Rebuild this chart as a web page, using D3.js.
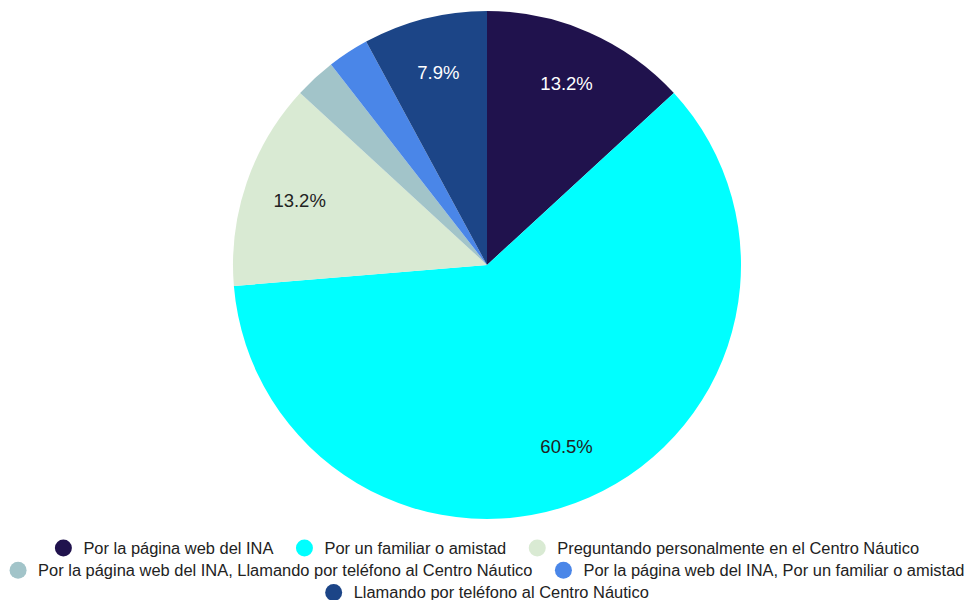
<!DOCTYPE html>
<html><head><meta charset="utf-8">
<script src="https://cdn.jsdelivr.net/npm/d3@7"></script>
<style>body{margin:0;background:#fff}svg{display:block;font-family:"Liberation Sans",Arial,sans-serif}</style>
</head><body>
<svg id="c" width="967" height="600"></svg>
<script>
const categories = [
  "Por la página web del INA",
  "Por un familiar o amistad",
  "Preguntando personalmente en el Centro Náutico",
  "Por la página web del INA, Llamando por teléfono al Centro Náutico",
  "Por la página web del INA, Por un familiar o amistad",
  "Llamando por teléfono al Centro Náutico"
];
const values = [5, 23, 5, 1, 1, 3];
const colors = ["#20124d", "#00ffff", "#d9ead3", "#a2c4c9", "#4a86e8", "#1c4587"];
const labelColors = ["#ffffff", "#222222", "#222222", "#222222", "#ffffff", "#ffffff"];

const svg = d3.select("#c");
const cx = 487, cy = 265, R = 254;
const total = d3.sum(values);
const data = categories.map((c, i) => ({c, v: values[i], i}));
const pie = d3.pie().value(d => d.v).sort(null);
const arcs = pie(data);
const arc = d3.arc().innerRadius(0).outerRadius(R);
const labelArc = d3.arc().innerRadius(R * 0.78).outerRadius(R * 0.78);

const g = svg.append("g").attr("transform", `translate(${cx},${cy})`);
g.selectAll("path").data(arcs).join("path")
  .attr("d", arc).attr("fill", d => colors[d.data.i]);

g.selectAll("text").data(arcs.filter(d => d.data.v / total >= 0.05)).join("text")
  .attr("transform", d => `translate(${labelArc.centroid(d)})`)
  .attr("text-anchor", "middle").attr("dy", "0.35em")
  .attr("font-size", 18.5)
  .attr("fill", d => labelColors[d.data.i])
  .text(d => (d.data.v / total * 100).toFixed(1) + "%");

// legend with wrapping
const fs = 16.45, rad = 8.5, textOff = 20, gapItem = 22.5, maxW = 962, rowH = 22.2, y0 = 548;
const lg = svg.append("g");
const tmp = lg.append("text").attr("font-size", fs);
const items = categories.map((c, i) => { tmp.text(c); return {c, i, w: rad + textOff + tmp.node().getComputedTextLength()}; });
tmp.remove();
const rows = [];
let cur = [], curW = 0;
items.forEach(it => {
  const add = (cur.length ? gapItem : 0) + it.w;
  if (cur.length && curW + add > maxW) { rows.push({items: cur, w: curW}); cur = []; curW = 0; }
  curW += (cur.length ? gapItem : 0) + it.w; cur.push(it);
});
if (cur.length) rows.push({items: cur, w: curW});
rows.forEach((row, r) => {
  let x = cx - row.w / 2;
  const y = y0 + r * rowH;
  row.items.forEach(it => {
    lg.append("circle").attr("cx", x + rad).attr("cy", y).attr("r", rad).attr("fill", colors[it.i]);
    lg.append("text").attr("x", x + rad + textOff).attr("y", y).attr("dy", "0.35em")
      .attr("font-size", fs).attr("fill", "#222").text(it.c);
    x += it.w + gapItem;
  });
});
</script>
</body></html>
